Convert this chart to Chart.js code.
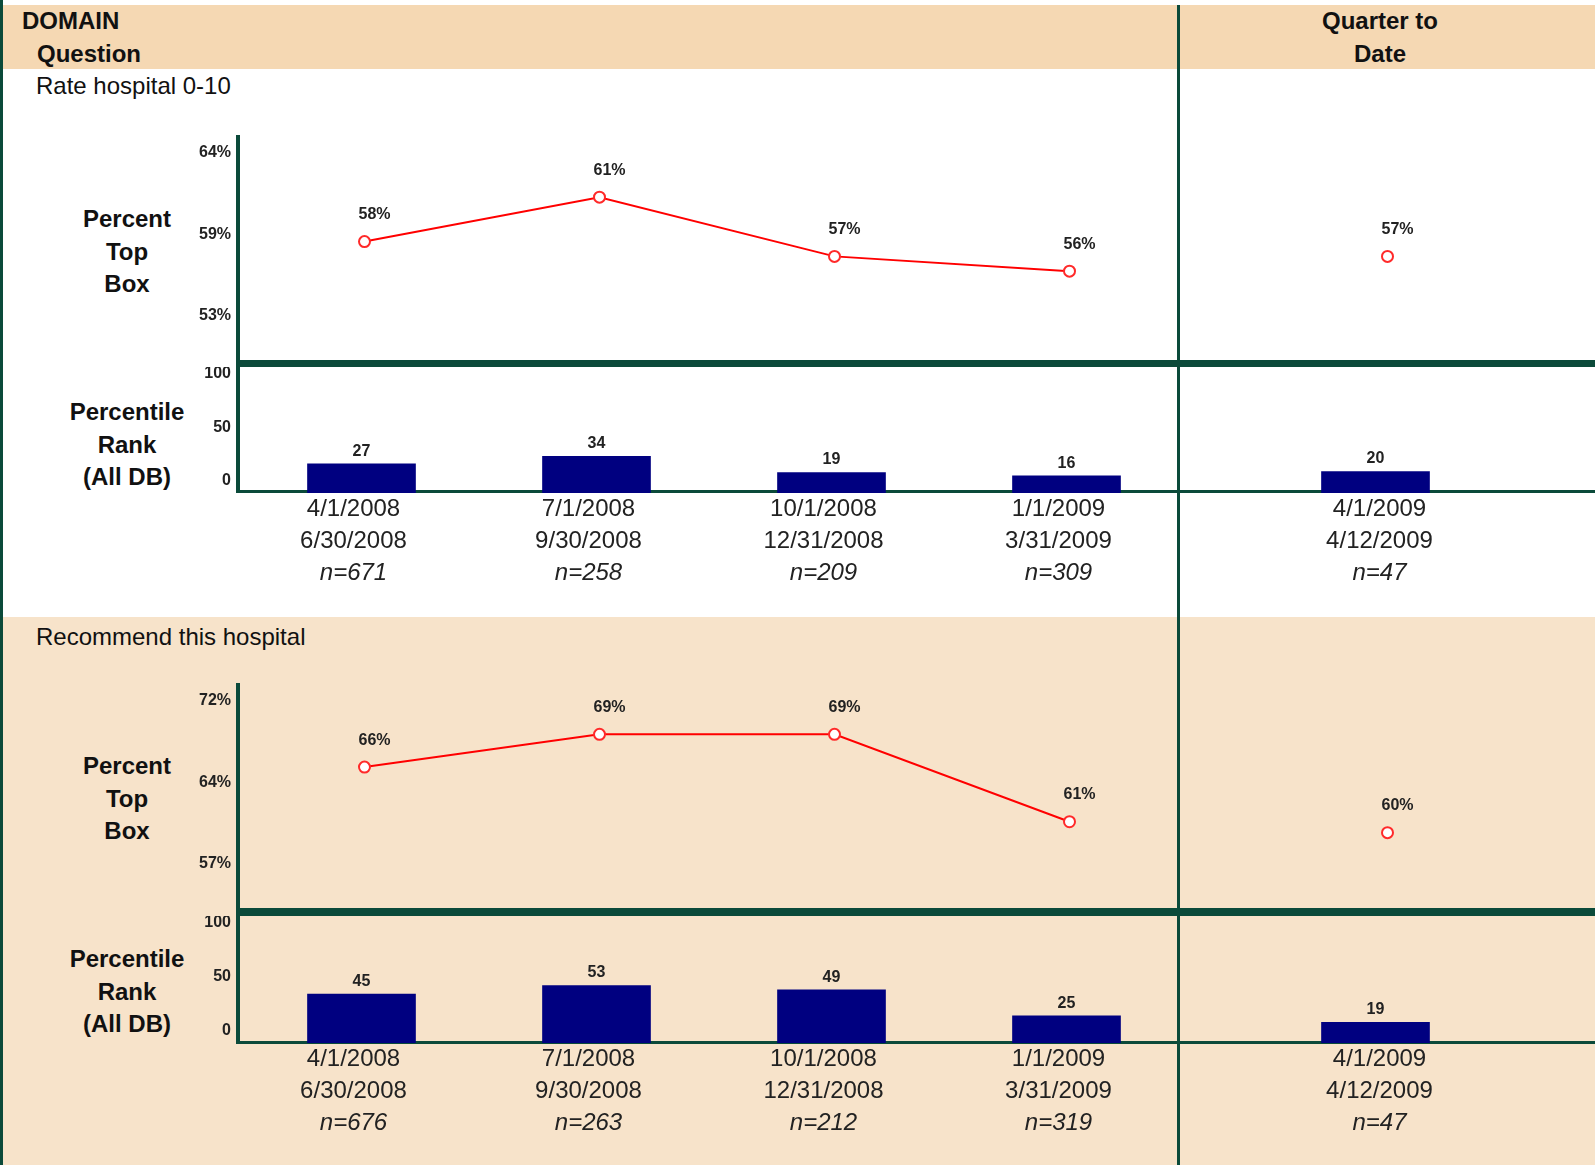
<!DOCTYPE html>
<html>
<head>
<meta charset="utf-8">
<script src="https://cdn.jsdelivr.net/npm/chart.js@4.4.1/dist/chart.umd.min.js"></script>
<style>
  body { margin: 0; width: 1595px; height: 1165px; position: relative; overflow: hidden; background: #fff;
         font-family: "Liberation Sans", Arial, sans-serif; color: #111; }
  .box { position: absolute; }
  .line { position: absolute; background: #0b4a3a; }
  .txt { position: absolute; font-size: 24px; line-height: 32px; white-space: nowrap; }
  .b { font-weight: bold; }
  .stack { position: absolute; width: 220px; text-align: center; font-size: 24px; font-weight: bold; line-height: 32.5px; }
  canvas { position: absolute; z-index: 2; }
</style>
</head>
<body>
<!-- backgrounds -->
<div class="box" style="left:0;top:5px;width:1595px;height:64px;background:#f5d8b3"></div>
<div class="box" style="left:0;top:617px;width:1595px;height:548px;background:#f7e3ca"></div>

<!-- table lines -->
<div class="line" style="left:0;top:0;width:3px;height:1165px"></div>
<div class="line" style="left:1177px;top:5px;width:3px;height:1160px"></div>
<div class="line" style="left:236px;top:135px;width:4px;height:358px"></div>
<div class="line" style="left:236px;top:683px;width:4px;height:361px"></div>
<div class="line" style="left:236px;top:360px;width:1359px;height:7px"></div>
<div class="line" style="left:236px;top:908px;width:1359px;height:8px"></div>
<div class="line" style="left:236px;top:490px;width:1359px;height:3px"></div>
<div class="line" style="left:236px;top:1041px;width:1359px;height:3px"></div>

<!-- header -->
<div class="txt b" style="left:22px;top:5px">DOMAIN</div>
<div class="txt b" style="left:37px;top:38px">Question</div>
<div class="txt b" style="left:1280px;top:5px;width:200px;text-align:center">Quarter to</div>
<div class="txt b" style="left:1280px;top:38px;width:200px;text-align:center">Date</div>

<div class="txt" style="left:36px;top:70px">Rate hospital 0-10</div>
<div class="txt" style="left:36px;top:621px">Recommend this hospital</div>

<div class="stack" style="left:17px;top:203px">Percent<br>Top<br>Box</div>
<div class="stack" style="left:17px;top:396px">Percentile<br>Rank<br>(All DB)</div>
<div class="stack" style="left:17px;top:750px">Percent<br>Top<br>Box</div>
<div class="stack" style="left:17px;top:943px">Percentile<br>Rank<br>(All DB)</div>

<canvas id="rateLine" width="998" height="225" style="left:189px;top:135px"></canvas>
<canvas id="rateLineQ" width="415" height="225" style="left:1180px;top:135px"></canvas>
<canvas id="rateBar" width="998" height="226" style="left:186px;top:367px"></canvas>
<canvas id="rateBarQ" width="415" height="226" style="left:1168px;top:367px"></canvas>

<canvas id="recLine" width="998" height="225" style="left:189px;top:683px"></canvas>
<canvas id="recLineQ" width="415" height="225" style="left:1180px;top:683px"></canvas>
<canvas id="recBar" width="998" height="227" style="left:186px;top:916px"></canvas>
<canvas id="recBarQ" width="415" height="227" style="left:1168px;top:916px"></canvas>

<script>
// periods
var periodStart = ['4/1/2008', '7/1/2008', '10/1/2008', '1/1/2009'];
var periodEnd = ['6/30/2008', '9/30/2008', '12/31/2008', '3/31/2009'];
var qtdStart = ['4/1/2009'];
var qtdEnd = ['4/12/2009'];

// Rate hospital 0-10
var rateN = [671, 258, 209, 309];
var rateNQtd = [47];
var ratePct = [58, 61, 57, 56];
var ratePctQtd = [57];
var rateRank = [27, 34, 19, 16];
var rateRankQtd = [20];
var rateTicks = [53, 58.5, 64];
var rateTickLabels = ['53%', '59%', '64%'];

// Recommend this hospital
var recN = [676, 263, 212, 319];
var recNQtd = [47];
var recPct = [66, 69, 69, 61];
var recPctQtd = [60];
var recRank = [45, 53, 49, 25];
var recRankQtd = [19];
var recTicks = [57.2, 64.6, 72.1];
var recTickLabels = ['57%', '64%', '72%'];

// percentile rank axis
var rankTicks = [0, 50, 100];
var rankTickLabels = ['0', '50', '100'];

Chart.defaults.font.family = '"Liberation Sans", Arial, sans-serif';
Chart.defaults.color = '#222';

var smallFont = { size: 16, weight: 'bold' };

// text above each point / bar
function valueLabels(suffix, dx, dy) {
    return {
        id: 'valueLabels',
        afterDatasetsDraw: function(chart) {
            var ctx = chart.ctx;
            var ds = chart.data.datasets[0];
            ctx.save();
            ctx.font = 'bold 16px "Liberation Sans", Arial, sans-serif';
            ctx.fillStyle = '#222';
            ctx.textAlign = 'center';
            ctx.textBaseline = 'middle';
            chart.getDatasetMeta(0).data.forEach(function(el, i) {
                ctx.fillText(ds.data[i] + suffix, el.x + dx, el.y + dy);
            });
            ctx.restore();
        }
    };
}

// the three lines under each bar: start date, end date, n
function dateLabels(start, end, n, dx) {
    return {
        id: 'dateLabels',
        afterDraw: function(chart) {
            var ctx = chart.ctx;
            var x = chart.scales.x;
            var y0 = chart.chartArea.bottom;
            ctx.save();
            ctx.fillStyle = '#222';
            ctx.textAlign = 'center';
            ctx.textBaseline = 'middle';
            start.forEach(function(s, i) {
                var px = x.getPixelForValue(i) + dx;
                ctx.font = '24px "Liberation Sans", Arial, sans-serif';
                ctx.fillText(s, px, y0 + 16);
                ctx.fillText(end[i], px, y0 + 48);
                ctx.font = 'italic 24px "Liberation Sans", Arial, sans-serif';
                ctx.fillText('n=' + n[i], px, y0 + 80);
            });
            ctx.restore();
        }
    };
}

function yAxis(show, min, max, ticks, labels, offset, pad) {
    return {
        display: show,
        min: min,
        max: max,
        grid: { display: false, drawTicks: false },
        border: { display: false },
        afterFit: function(s) { s.width = show ? 58 : 0; s.paddingTop = 0; s.paddingBottom = 0; },
        afterBuildTicks: function(s) { s.ticks = ticks.map(function(v) { return { value: v }; }); },
        ticks: {
            font: smallFont,
            color: '#222',
            padding: pad,
            labelOffset: offset,
            callback: function(v, i) { return labels[i]; }
        }
    };
}

function lineChart(id, labels, values, showAxis, min, max, ticks, tickLabels) {
    return new Chart(document.getElementById(id), {
        type: 'line',
        data: {
            labels: labels,
            datasets: [{
                data: values,
                borderColor: '#ff0000',
                borderWidth: 2,
                pointRadius: 5.5,
                pointBorderWidth: 2,
                pointBorderColor: '#ff2a2a',
                pointBackgroundColor: '#ffffff',
                tension: 0
            }]
        },
        options: {
            responsive: false,
            animation: false,
            devicePixelRatio: 1,
            layout: { padding: 0, autoPadding: false },
            plugins: { legend: { display: false }, tooltip: { enabled: false } },
            scales: {
                x: { display: false, offset: true },
                y: yAxis(showAxis, min, max, ticks, tickLabels, 0, 16)
            }
        },
        plugins: [valueLabels('%', 10, -27)]
    });
}

function barChart(id, values, showAxis, start, end, n, dx) {
    return new Chart(document.getElementById(id), {
        type: 'bar',
        data: {
            labels: start,
            datasets: [{
                data: values,
                backgroundColor: '#000080',
                barThickness: 108
            }]
        },
        options: {
            responsive: false,
            animation: false,
            devicePixelRatio: 1,
            layout: { padding: { bottom: 100 }, autoPadding: false },
            plugins: { legend: { display: false }, tooltip: { enabled: false } },
            scales: {
                x: { display: false },
                y: yAxis(showAxis, 0, 117, rankTicks, rankTickLabels, -12, 13)
            }
        },
        plugins: [valueLabels('', 0, -12.5), dateLabels(start, end, n, dx)]
    });
}

lineChart('rateLine', periodStart, ratePct, true, 50, 65.2, rateTicks, rateTickLabels);
lineChart('rateLineQ', qtdStart, ratePctQtd, false, 50, 65.2, rateTicks, rateTickLabels);
barChart('rateBar', rateRank, true, periodStart, periodEnd, rateN, -8);
barChart('rateBarQ', rateRankQtd, false, qtdStart, qtdEnd, rateNQtd, 4);

lineChart('recLine', periodStart, recPct, true, 53.1, 73.7, recTicks, recTickLabels);
lineChart('recLineQ', qtdStart, recPctQtd, false, 53.1, 73.7, recTicks, recTickLabels);
barChart('recBar', recRank, true, periodStart, periodEnd, recN, -8);
barChart('recBarQ', recRankQtd, false, qtdStart, qtdEnd, recNQtd, 4);
</script>
</body>
</html>
